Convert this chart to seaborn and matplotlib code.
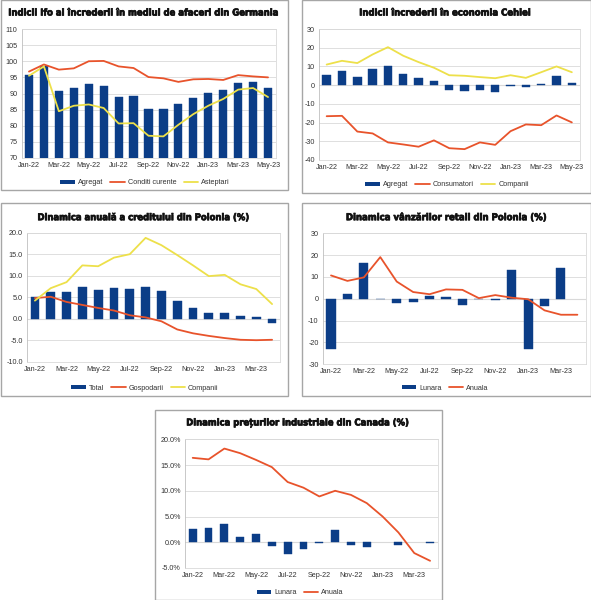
import numpy as np
import matplotlib
matplotlib.use('Agg')
import matplotlib.pyplot as plt
import matplotlib.ticker as mticker
import matplotlib.patheffects as pe
import seaborn as sns
from matplotlib import font_manager
from matplotlib.font_manager import FontProperties
from matplotlib.patches import Rectangle, Patch
from matplotlib.lines import Line2D

# ---------------------------------------------------------------------------
# Dane
# ---------------------------------------------------------------------------

months_17 = ['Jan-22', 'Feb-22', 'Mar-22', 'Apr-22', 'May-22', 'Jun-22', 'Jul-22',
             'Aug-22', 'Sep-22', 'Oct-22', 'Nov-22', 'Dec-22', 'Jan-23', 'Feb-23',
             'Mar-23', 'Apr-23', 'May-23']
months_16 = months_17[:16]

# Germania - Ifo
de_agregat = [95.7, 98.6, 90.8, 91.8, 93.0, 92.4, 88.9, 89.1, 85.2, 85.1, 86.7,
              88.7, 90.2, 91.2, 93.4, 93.6, 91.8]
de_curente = [96.8, 99.0, 97.4, 97.8, 100.0, 100.1, 98.4, 97.9, 95.1, 94.7, 93.6,
              94.4, 94.5, 94.2, 95.7, 95.3, 95.0]
de_asteptari = [95.5, 98.4, 84.5, 86.2, 86.6, 85.5, 80.7, 80.8, 76.9, 76.7, 80.3,
                83.6, 86.2, 88.3, 91.2, 91.7, 88.9]

# Cehia
cz_agregat = [5.3, 7.5, 4.5, 8.4, 10.2, 6.2, 3.7, 2.0, -2.7, -3.0, -2.7, -3.4,
              -0.7, -1.1, 0.7, 4.8, 1.4]
cz_consumatori = [-16.6, -16.4, -24.8, -25.8, -30.6, -31.7, -32.9, -29.5, -33.7,
                  -34.2, -30.6, -31.9, -24.6, -21.0, -21.4, -16.2, -19.9]
cz_companii = [11.0, 13.0, 11.8, 16.4, 20.3, 15.7, 12.3, 9.3, 5.3, 5.0, 4.3, 3.7,
               5.3, 3.9, 6.9, 10.0, 6.9]

# Polonia - credit
pl_total = [5.0, 6.1, 6.3, 7.4, 6.7, 7.2, 6.9, 7.3, 6.4, 4.2, 2.5, 1.4, 1.4, 0.6,
            0.3, -1.0]
pl_gospodarii = [4.8, 5.1, 3.9, 3.2, 2.5, 1.9, 0.8, 0.3, -0.6, -2.5, -3.4, -4.0,
                 -4.5, -4.9, -5.0, -4.9]
pl_companii = [4.2, 7.1, 8.5, 12.4, 12.2, 14.2, 15.0, 18.8, 17.1, 14.8, 12.4, 9.9,
               10.2, 8.0, 6.9, 3.4]

# Polonia - retail (brak slupka w Apr-23)
pr_lunara = [-22.9, 2.0, 16.5, -0.3, -1.8, -1.6, 1.2, 0.9, -2.8, 0.1, -0.4, 13.3,
             -23.0, -3.5, 14.0, np.nan]
pr_anuala = [10.7, 8.2, 9.8, 19.1, 7.9, 3.1, 2.1, 4.3, 4.1, 0.3, 1.7, 0.5, -0.2,
             -5.3, -7.3, -7.3]

# Canada - preturi industriale (brak slupkow w Jan-23 i Mar-23)
ca_lunara = [2.6, 2.7, 3.5, 1.1, 1.7, -0.8, -2.3, -1.4, -0.1, 2.3, -0.6, -0.9,
             np.nan, -0.6, np.nan, -0.2]
ca_anuala = [16.4, 16.1, 18.2, 17.3, 16.0, 14.6, 11.7, 10.6, 8.9, 10.0, 9.2, 7.6,
             5.0, 1.9, -2.1, -3.6]

# ---------------------------------------------------------------------------
# Styl
# ---------------------------------------------------------------------------

W, H = 591, 600
NAVY = '#0b3d87'
RED = '#e8532b'
YELLOW = '#ede04a'
GRID = '#d9d9d9'
BORDER = '#a6a6a6'

sns.set_theme(style='white')
_fonts = font_manager.fontManager.ttflist
_names = {f.name for f in _fonts}
TICK_FONT = 'Liberation Sans' if 'Liberation Sans' in _names else 'DejaVu Sans'
plt.rcParams['font.family'] = [TICK_FONT, 'DejaVu Sans']


def _pick_title_font():
    """Szuka waskiego, pogrubionego kroju; w razie braku Liberation Sans Bold."""
    narrow = []
    for f in _fonts:
        w = f.weight if isinstance(f.weight, int) else 700 if 'bold' in str(f.weight) else 400
        is_narrow = ('condensed' in str(f.stretch) or 'Narrow' in f.name
                     or 'Condensed' in f.name)
        if is_narrow and w >= 600 and 'Mono' not in f.name:
            narrow.append(f)
    if narrow:
        return FontProperties(fname=narrow[0].fname)
    return FontProperties(family=[TICK_FONT, 'DejaVu Sans'], weight='bold')


TITLE_PROP = _pick_title_font()

fig = plt.figure(figsize=(W / 100, H / 100), dpi=100)
fig.patch.set_facecolor('white')
renderer = fig.canvas.get_renderer()


def px_rect(x0, y0, x1, y1):
    """Konwersja prostokata w pikselach (od gory) na wspolrzedne figury."""
    return [x0 / W, 1 - y1 / H, (x1 - x0) / W, (y1 - y0) / H]


def box(x0, y0, x1, y1):
    fig.patches.append(Rectangle((x0 / W, 1 - y1 / H), (x1 - x0) / W, (y1 - y0) / H,
                                 transform=fig.transFigure, fill=False,
                                 edgecolor=BORDER, linewidth=1.0))


def title(text, cx, cy, width_px):
    t = fig.text(cx / W, 1 - cy / H, text, ha='center', va='center',
                 fontproperties=TITLE_PROP, color='#111111')
    t.set_fontsize(10)
    w = t.get_window_extent(renderer).width
    t.set_fontsize(min(10 * width_px / w, 10.5))
    t.set_path_effects([pe.withStroke(linewidth=0.5, foreground='#111111')])


def panel(rect, months, ticks, bars, lines, ylim, ystep, yfmt, legend, leg_xy,
          bar_w=0.55):
    ax = fig.add_axes(px_rect(*rect))
    idx = np.arange(len(months))
    sns.barplot(x=idx, y=bars, color=NAVY, saturation=1, width=bar_w,
                edgecolor=NAVY, linewidth=0.3, ax=ax, zorder=3)
    for vals, col, lw in lines:
        sns.lineplot(x=idx, y=vals, color=col, linewidth=lw, ax=ax, zorder=4,
                     legend=False)
    ax.set_xlim(-0.5, len(months) - 0.5)
    ax.set_ylim(*ylim)
    ax.yaxis.set_major_locator(mticker.MultipleLocator(ystep))
    ax.yaxis.set_major_formatter(mticker.FormatStrFormatter(yfmt))
    ax.set_xticks([months.index(m) for m in ticks])
    ax.set_xticklabels(ticks)
    ax.tick_params(axis='both', length=0, labelsize=5.2, colors='#333333', pad=3)
    ax.grid(axis='y', color=GRID, linewidth=0.6, zorder=0)
    ax.axhline(0, color=GRID, linewidth=0.8, zorder=1)
    for s in ax.spines.values():
        s.set_color(GRID)
        s.set_linewidth(0.6)
    ax.spines['left'].set_color('#bfbfbf')
    ax.set_xlabel('')
    ax.set_ylabel('')

    handles = [Patch(facecolor=NAVY, edgecolor='none')]
    handles += [Line2D([0], [0], color=col, linewidth=lw) for _, col, lw in lines]
    fig.legend(handles, legend, loc='center', ncol=len(legend), frameon=False,
               bbox_to_anchor=(leg_xy[0] / W, 1 - leg_xy[1] / H), fontsize=5.2,
               handlelength=2.0, handleheight=0.6, handletextpad=0.4,
               columnspacing=1.0, labelcolor='#333333')
    return ax


ticks_17 = months_17[::2]
ticks_16 = months_16[::2]

# 1. Germania
box(0.5, 0.5, 287.5, 190)
title('Indicii Ifo ai încrederii în mediul de afaceri din Germania', 144, 13, 268)
panel((21.5, 29, 275.5, 158), months_17, ticks_17, de_agregat,
      [(de_curente, RED, 1.3), (de_asteptari, YELLOW, 1.3)],
      (70, 110), 5, '%d', ['Agregat', 'Conditi curente', 'Asteptari'], (145, 183))

# 2. Cehia
box(302, 0.5, 590.5, 193)
title('Indicii încrederii în economia Cehiei', 446, 13, 170)
panel((319, 29, 579.5, 160), months_17, ticks_17, cz_agregat,
      [(cz_consumatori, RED, 1.3), (cz_companii, YELLOW, 1.3)],
      (-40, 30), 10, '%d', ['Agregat', 'Consumatori', 'Companii'], (447, 185))

# 3. Polonia credit
box(1.5, 203, 287.5, 396)
title('Dinamica anuală a creditului din Polonia (%)', 144, 217.7, 210)
panel((27, 232.7, 280, 361.7), months_16, ticks_16, pl_total,
      [(pl_gospodarii, RED, 1.3), (pl_companii, YELLOW, 1.3)],
      (-10, 20), 5, '%.1f', ['Total', 'Gospodarii', 'Companii'], (145, 388))

# 4. Polonia retail
box(302, 203, 590.5, 396)
title('Dinamica vânzărilor retail din Polonia (%)', 447, 217.7, 199)
panel((322.8, 233.3, 585.6, 364.3), months_16, ticks_16, pr_lunara,
      [(pr_anuala, RED, 1.3)],
      (-30, 30), 10, '%d', ['Lunara', 'Anuala'], (445, 388))

# 5. Canada
box(155, 410, 442, 599.5)
title('Dinamica prețurilor industriale din Canada (%)', 298.5, 423, 221)
panel((184.8, 439.3, 438, 568), months_16, ticks_16, ca_lunara,
      [(ca_anuala, RED, 1.3)],
      (-5, 20), 5, '%.1f%%', ['Lunara', 'Anuala'], (300, 593), bar_w=0.5)

fig.savefig('out.png', dpi=100, facecolor='white')
